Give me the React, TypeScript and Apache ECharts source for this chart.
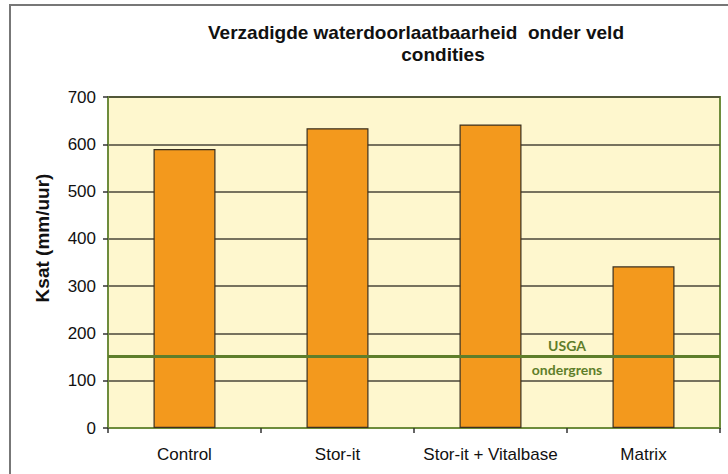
import React, { useEffect, useRef } from "react";
import * as echarts from "echarts";

const categories = ["Control", "Stor-it", "Stor-it + Vitalbase", "Matrix"];
const ksatValues = [590, 634, 642, 342];
const usgaLimit = 152;
const usgaLabelTop = "USGA";
const usgaLabelBottom = "ondergrens";
const titleLine1 = "Verzadigde waterdoorlaatbaarheid  onder veld";
const titleLine2 = "condities";
const yAxisName = "Ksat (mm/uur)";

export default function App() {
  const ref = useRef<HTMLDivElement>(null);
  useEffect(() => {
    document.body.style.margin = "0";
    const chart = echarts.init(ref.current!, null, { renderer: "svg" });
    const font = "Arial";
    chart.setOption({
      animation: false,
      backgroundColor: "#ffffff",
      title: [
        {
          text: titleLine1,
          left: 411,
          top: 18,
          textAlign: "center",
          textStyle: { fontFamily: font, fontSize: 19, fontWeight: "bold", color: "#111" },
        },
        {
          text: titleLine2,
          left: 438,
          top: 40,
          textAlign: "center",
          textStyle: { fontFamily: font, fontSize: 19, fontWeight: "bold", color: "#111" },
        },
      ],
      grid: {
        left: 108,
        right: 8,
        top: 97,
        bottom: 46,
        show: true,
        backgroundColor: "#FEF7CE",
        borderColor: "#6E8C3C",
        borderWidth: 2,
      },
      xAxis: {
        type: "category",
        data: categories,
        boundaryGap: true,
        axisLine: { show: true, lineStyle: { color: "#6E8C3C", width: 2 } },
        axisTick: { show: true, alignWithLabel: false, length: 5, lineStyle: { color: "#333", width: 1.5 } },
        axisLabel: { interval: 0, hideOverlap: false, fontFamily: font, fontSize: 17, color: "#111", margin: 18 },
        splitLine: { show: false },
      },
      yAxis: {
        type: "value",
        min: 0,
        max: 700,
        interval: 100,
        axisLine: { show: true, lineStyle: { color: "#6E8C3C", width: 2 } },
        axisTick: { show: true, length: 5, lineStyle: { color: "#333", width: 1.5 } },
        axisLabel: { fontFamily: font, fontSize: 17, color: "#111", margin: 12 },
        splitLine: { show: true, lineStyle: { color: "#4A4638", width: 1.5 } },
      },
      series: [
        {
          type: "bar",
          data: ksatValues,
          barWidth: 62,
          itemStyle: { color: "#F3991D", borderColor: "#3A3020", borderWidth: 1.2 },
          z: 3,
          markLine: {
            silent: true,
            symbol: "none",
            label: { show: false },
            lineStyle: { color: "#5E7E2A", width: 3, type: "solid" },
            data: [{ yAxis: usgaLimit }],
            z: 5,
          },
        },
      ],
    });
    const p2 = chart.convertToPixel({ xAxisIndex: 0 }, categories[2]) as number;
    const p3 = chart.convertToPixel({ xAxisIndex: 0 }, categories[3]) as number;
    const xb = (p2 + p3) / 2;
    const yl = chart.convertToPixel({ yAxisIndex: 0 }, usgaLimit) as number;
    const lblFont = "bold 14px Lato, 'Open Sans', sans-serif";
    chart.setOption({
      graphic: [
        {
          type: "text",
          x: 42,
          y: 238,
          rotation: Math.PI / 2,
          z: 10,
          style: {
            text: yAxisName,
            fill: "#111",
            font: "bold 19px Arial",
            textAlign: "center",
            textVerticalAlign: "middle",
          },
        },
        {
          type: "text",
          x: xb,
          y: yl - 11,
          z: 10,
          style: {
            text: usgaLabelTop,
            fill: "#5E7E2A",
            font: lblFont,
            textAlign: "center",
            textVerticalAlign: "middle",
          },
        },
        {
          type: "text",
          x: xb,
          y: yl + 13,
          z: 10,
          style: {
            text: usgaLabelBottom,
            fill: "#5E7E2A",
            font: lblFont,
            textAlign: "center",
            textVerticalAlign: "middle",
          },
        },
        {
          type: "rect",
          z: -1,
          silent: true,
          shape: { x: 10, y: 5, width: 900, height: 700 },
          style: { fill: "none", stroke: "#777", lineWidth: 2 },
        },
      ],
    });
    return () => chart.dispose();
  }, []);
  return <div ref={ref} style={{ width: 728, height: 474 }} />;
}
